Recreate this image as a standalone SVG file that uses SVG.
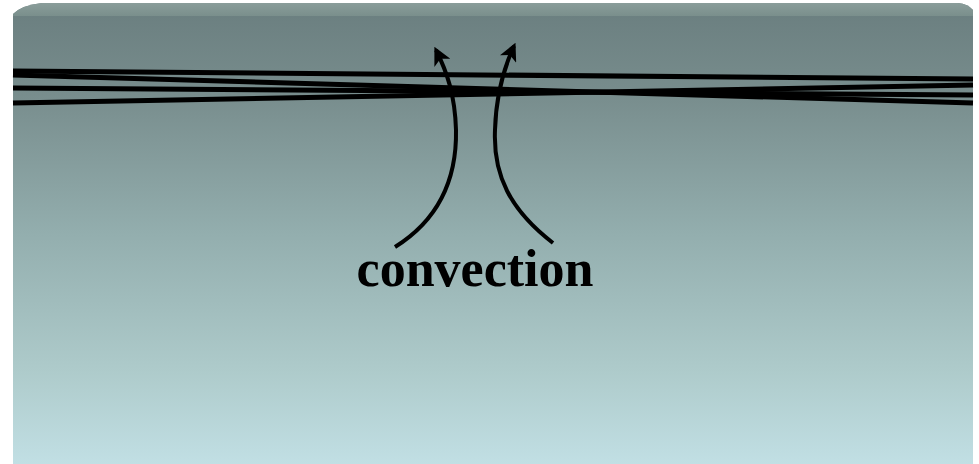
<svg xmlns="http://www.w3.org/2000/svg" width="979" height="464" viewBox="0 0 979 464">
  <style>
    .wire { stroke: #000; stroke-width: 5; fill: none; stroke-linecap: butt; }
    .flow { stroke: #000; stroke-width: 4; fill: none; }
    .label { font-family: "Liberation Serif", "Times New Roman", serif; font-weight: bold; font-size: 52px; fill: #000; }
  </style>
  <defs>
    <linearGradient id="bg" x1="0" y1="0" x2="0" y2="1">
      <stop offset="0" stop-color="#6a7e7f"/>
      <stop offset="0.2" stop-color="#788d8d"/>
      <stop offset="0.5" stop-color="#93aeae"/>
      <stop offset="0.8" stop-color="#aecbcb"/>
      <stop offset="1" stop-color="#c1dfe4"/>
    </linearGradient>
    <linearGradient id="bevel" x1="0" y1="0" x2="0" y2="1">
      <stop offset="0" stop-color="#8a9d9a"/>
      <stop offset="1" stop-color="#7a8f8c"/>
    </linearGradient>
    <marker id="head" viewBox="0 0 10 10" refX="8" refY="5" markerWidth="4.5" markerHeight="4.5" orient="auto" markerUnits="strokeWidth">
      <path d="M0,0 L10,5 L0,10 L2.5,5 Z" fill="#000"/>
    </marker>
  </defs>
  <rect x="0" y="0" width="979" height="464" fill="#ffffff"/>
  <g id="background">
    <path d="M13,14 Q22,5 42,3 L958,3 Q968,4 973,10 L973,464 L13,464 Z" fill="url(#bg)"/>
    <path d="M13,14 Q22,5 42,3 L958,3 Q968,4 973,10 L973,16 L13,16 Z" fill="url(#bevel)"/>
  </g>
  <g id="connectors">
    <line class="wire" x1="13" y1="71" x2="973" y2="79"/>
    <line class="wire" x1="13" y1="75" x2="973" y2="103"/>
    <line class="wire" x1="13" y1="88" x2="973" y2="95"/>
    <line class="wire" x1="13" y1="103" x2="973" y2="85"/>
    <path class="flow" marker-end="url(#head)" d="M395,247 C435,222 457,185 456,130 C455,95 447,72 436,50"/>
    <path class="flow" marker-end="url(#head)" d="M553,243 C510,210 493,175 495,130 C496,95 503,70 514,46"/>
  </g>
  <g id="label-convection">
    <text class="label" x="475" y="286" text-anchor="middle">convection</text>
  </g>
</svg>
